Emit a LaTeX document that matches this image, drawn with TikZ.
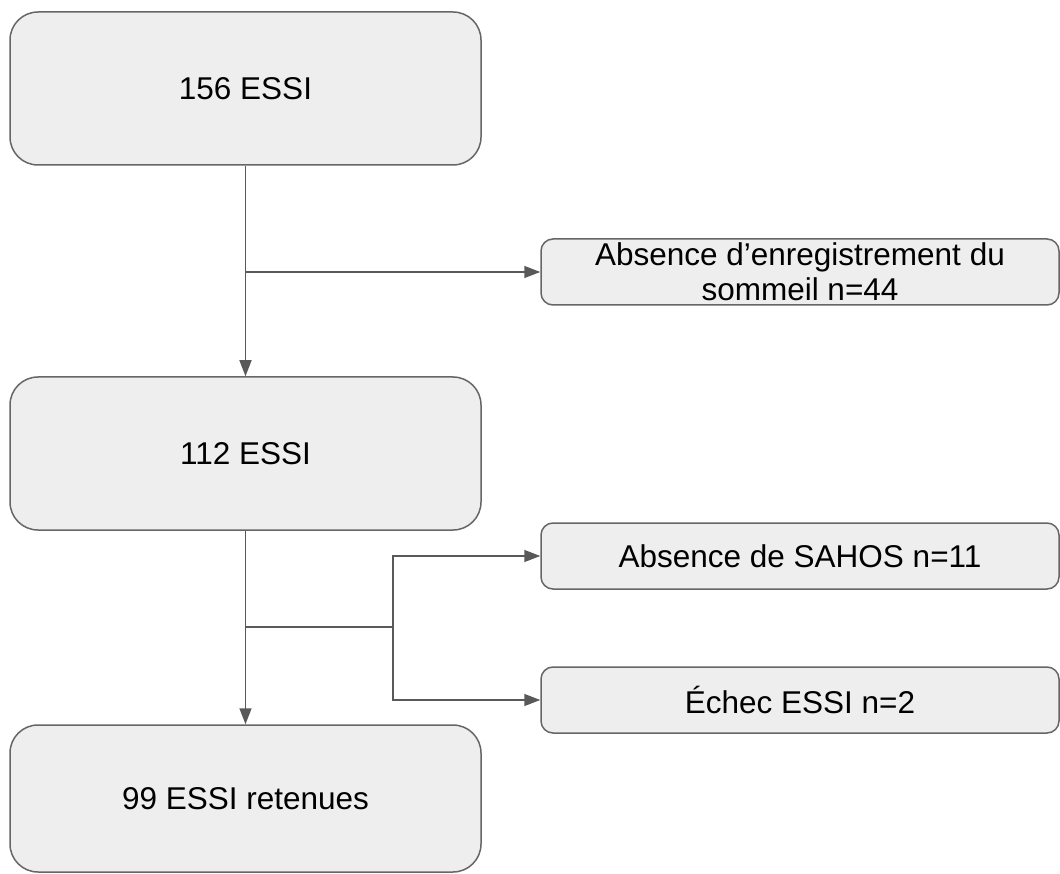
\documentclass[tikz,border=0pt]{standalone}
\usepackage{fontspec}
\setmainfont{Liberation Sans}
\usetikzlibrary{arrows.meta}
\definecolor{boxfill}{HTML}{EEEEEE}
\definecolor{boxline}{HTML}{666666}
\definecolor{flowline}{HTML}{595959}
\tikzset{
  bigbox/.style={draw=boxline, fill=boxfill, line width=1.5pt, rounded corners=28pt,
    minimum width=471pt, minimum height=153pt, inner sep=0pt},
  smallbox/.style={draw=boxline, fill=boxfill, line width=1.5pt, rounded corners=12pt,
    minimum width=518pt, minimum height=66pt, inner sep=0pt, align=center},
  link/.style={draw=flowline, line width=1.5pt},
  flow/.style={link, -{Triangle[length=16pt,width=12pt]}}
}
\begin{document}
\begin{tikzpicture}[x=1pt, y=-1pt, font=\fontsize{31.5}{35}\selectfont]
    \useasboundingbox (0,0) rectangle (1060,874);
    \node [bigbox] (A0_0) at (245.5, 88.5) {156 ESSI};
    \node [bigbox] (A1_0) at (245.5, 453.5) {112 ESSI};
    \node [bigbox, minimum height=147pt] (A2_0) at (245.5, 798.5) {99 ESSI retenues};
    \node [smallbox] (B0_1) at (800, 272) {Absence d’enregistrement du\\sommeil n=44};
    \node [smallbox] (B1_1) at (800, 556) {Absence de SAHOS n=11};
    \node [smallbox] (B2_1) at (800, 700) {Échec ESSI n=2};
    \coordinate (J0) at (245.5, 272);
    \coordinate (J1) at (245.5, 627);
    \coordinate (J2) at (393, 627);
    \path (A0_0) edge [flow] (A1_0);
    \path (J0) edge [flow] (B0_1.west);
    \path (A1_0) edge [flow] (A2_0);
    \path (J1) edge [link] (J2);
    \draw [flow] (J2) |- (B1_1.west);
    \draw [flow] (J2) |- (B2_1.west);
  \end{tikzpicture}
\end{document}
